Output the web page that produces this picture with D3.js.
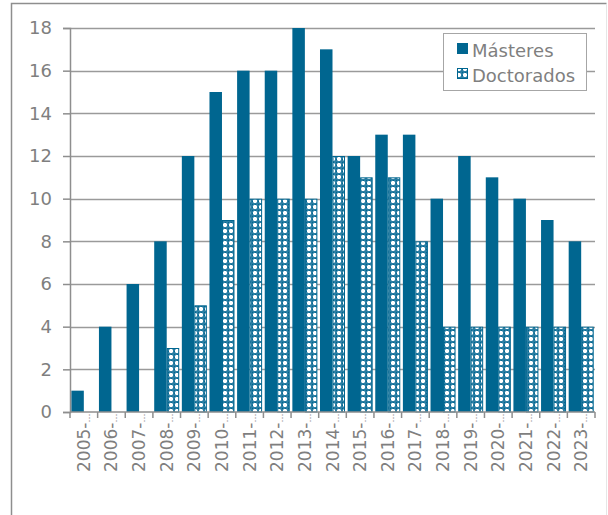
<!DOCTYPE html>
<html><head><meta charset="utf-8">
<script src="https://cdn.jsdelivr.net/npm/d3@7"></script>
<style>
html,body{margin:0;padding:0;background:#fff;}
svg{display:block;}
text{font-family:"DejaVu Sans",sans-serif;}
</style></head>
<body>
<svg id="c" width="608" height="515"></svg>
<script>
const categories = ["2005-…","2006-…","2007-…","2008-…","2009-…","2010-…","2011-…","2012-…","2013-…","2014-…","2015-…","2016-…","2017-…","2018-…","2019-…","2020-…","2021-…","2022-…","2023-…"];
const masteres   = [1,4,6,8,12,15,16,16,18,17,12,13,13,10,12,11,10,9,8];
const doctorados = [0,0,0,3,5,9,10,10,10,12,11,11,8,4,4,4,4,4,4];
const seriesNames = ["Másteres","Doctorados"];
const yTicks = [0,2,4,6,8,10,12,14,16,18];

const BLUE = "#006690";
const svg = d3.select("#c");

// pattern
const defs = svg.append("defs");
const pat = defs.append("pattern").attr("id","dots").attr("patternUnits","userSpaceOnUse")
  .attr("width",6).attr("height",6);
pat.append("rect").attr("width",6).attr("height",6).attr("fill","#2a7ea3");
pat.append("rect").attr("x",1).attr("y",2).attr("width",4).attr("height",2).attr("fill","#fff");
pat.append("rect").attr("x",2).attr("y",1).attr("width",2).attr("height",4).attr("fill","#fff");
[[0,0],[3,0],[0,3]].forEach(([a,b])=>{
  pat.append("rect").attr("x",a).attr("y",b).attr("width",1).attr("height",1).attr("fill",BLUE);
});
[[1,1],[4,1],[1,4],[4,4]].forEach(([a,b])=>{
  pat.append("rect").attr("x",a).attr("y",b).attr("width",1).attr("height",1).attr("fill","#8dbad0");
});

// outer frame
svg.append("path").attr("d","M11.5,515 L11.5,3.5 L606.5,3.5").attr("fill","none").attr("stroke","#8e8e8e").attr("stroke-width",1.5);
svg.append("line").attr("x1",606.5).attr("x2",606.5).attr("y1",4).attr("y2",515).attr("stroke","#e6e6e6");

const x0 = 70, x1 = 595, yb = 412, yt = 28;
const x = d3.scaleBand().domain(categories).range([x0,x1]).paddingInner(0.095).paddingOuter(0.0475);
const xs = d3.scaleBand().domain(seriesNames).range([0,x.bandwidth()]);
const y = d3.scaleLinear().domain([0,18]).range([yb,yt]);

// gridlines
svg.append("g").selectAll("line").data(yTicks.filter(d=>d>0)).join("line")
  .attr("x1",x0).attr("x2",x1).attr("y1",d=>Math.round(y(d))+0.5).attr("y2",d=>Math.round(y(d))+0.5)
  .attr("stroke","#9a9a9a").attr("stroke-width",1.3);

// bars
const g = svg.append("g");
g.selectAll("rect.m").data(masteres).join("rect").attr("class","m")
  .attr("x",(d,i)=>x(categories[i])+xs("Másteres"))
  .attr("width",xs.bandwidth())
  .attr("y",d=>y(d)).attr("height",d=>y(0)-y(d)).attr("fill",BLUE);
g.selectAll("rect.d").data(doctorados).join("rect").attr("class","d")
  .attr("x",(d,i)=>x(categories[i])+xs("Doctorados")+0.5)
  .attr("width",xs.bandwidth()-1)
  .attr("y",d=>y(d)+0.5).attr("height",d=>Math.max(0,y(0)-y(d)-0.5))
  .attr("fill","url(#dots)").attr("stroke",BLUE).attr("stroke-width",1)
  .attr("display",d=>d>0?null:"none");

// y axis
const yAxis = d3.axisLeft(y).tickValues(yTicks).tickSize(7).tickPadding(11).tickFormat(d3.format("d"));
const ya = svg.append("g").attr("transform",`translate(${x0},0)`).call(yAxis);
ya.select(".domain").attr("stroke","#8e8e8e").attr("stroke-width",1.5);
ya.selectAll(".tick line").attr("stroke","#8e8e8e").attr("stroke-width",1.5);
ya.selectAll("text").attr("fill","#7f7f7f").style("font-size","18px").style("font-family","DejaVu Sans");

// x axis
const xa = svg.append("g").attr("transform",`translate(0,${yb})`);
xa.append("line").attr("x1",x0).attr("x2",x1).attr("stroke","#8e8e8e").attr("stroke-width",1.5);
const bounds = d3.range(categories.length+1).map(i=>x0 + (x1-x0)*i/categories.length);
xa.selectAll("line.t").data(bounds).join("line").attr("class","t")
  .attr("x1",d=>d).attr("x2",d=>d).attr("y1",0).attr("y2",6).attr("stroke","#8e8e8e").attr("stroke-width",1.5);
const lbl = xa.selectAll("text").data(categories).join("text")
  .attr("transform",d=>`translate(${x(d)+x.bandwidth()/2+6},${60}) rotate(-90)`)
  .attr("text-anchor","start").attr("fill","#7f7f7f").style("font-size","17px");
lbl.append("tspan").text(d=>d.slice(0,-1));
lbl.append("tspan").style("font-size","9px").text(d=>d.slice(-1));

// legend
const lg = svg.append("g");
lg.append("rect").attr("x",443.5).attr("y",33.5).attr("width",143).attr("height",57).attr("fill","#fff").attr("stroke","#a6a6a6");
const items = [{name:seriesNames[0],fill:BLUE},{name:seriesNames[1],fill:"url(#dots)"}];
items.forEach((it,i)=>{
  const yy = 43 + i*25;
  lg.append("rect").attr("x",457.5).attr("y",yy+0.5).attr("width",10).attr("height",10)
    .attr("fill",it.fill).attr("stroke",BLUE).attr("stroke-width",1);
  lg.append("text").attr("x",472).attr("y",yy+13.5).attr("fill","#7f7f7f").style("font-size","18px").text(it.name);
});
</script>
</body></html>
